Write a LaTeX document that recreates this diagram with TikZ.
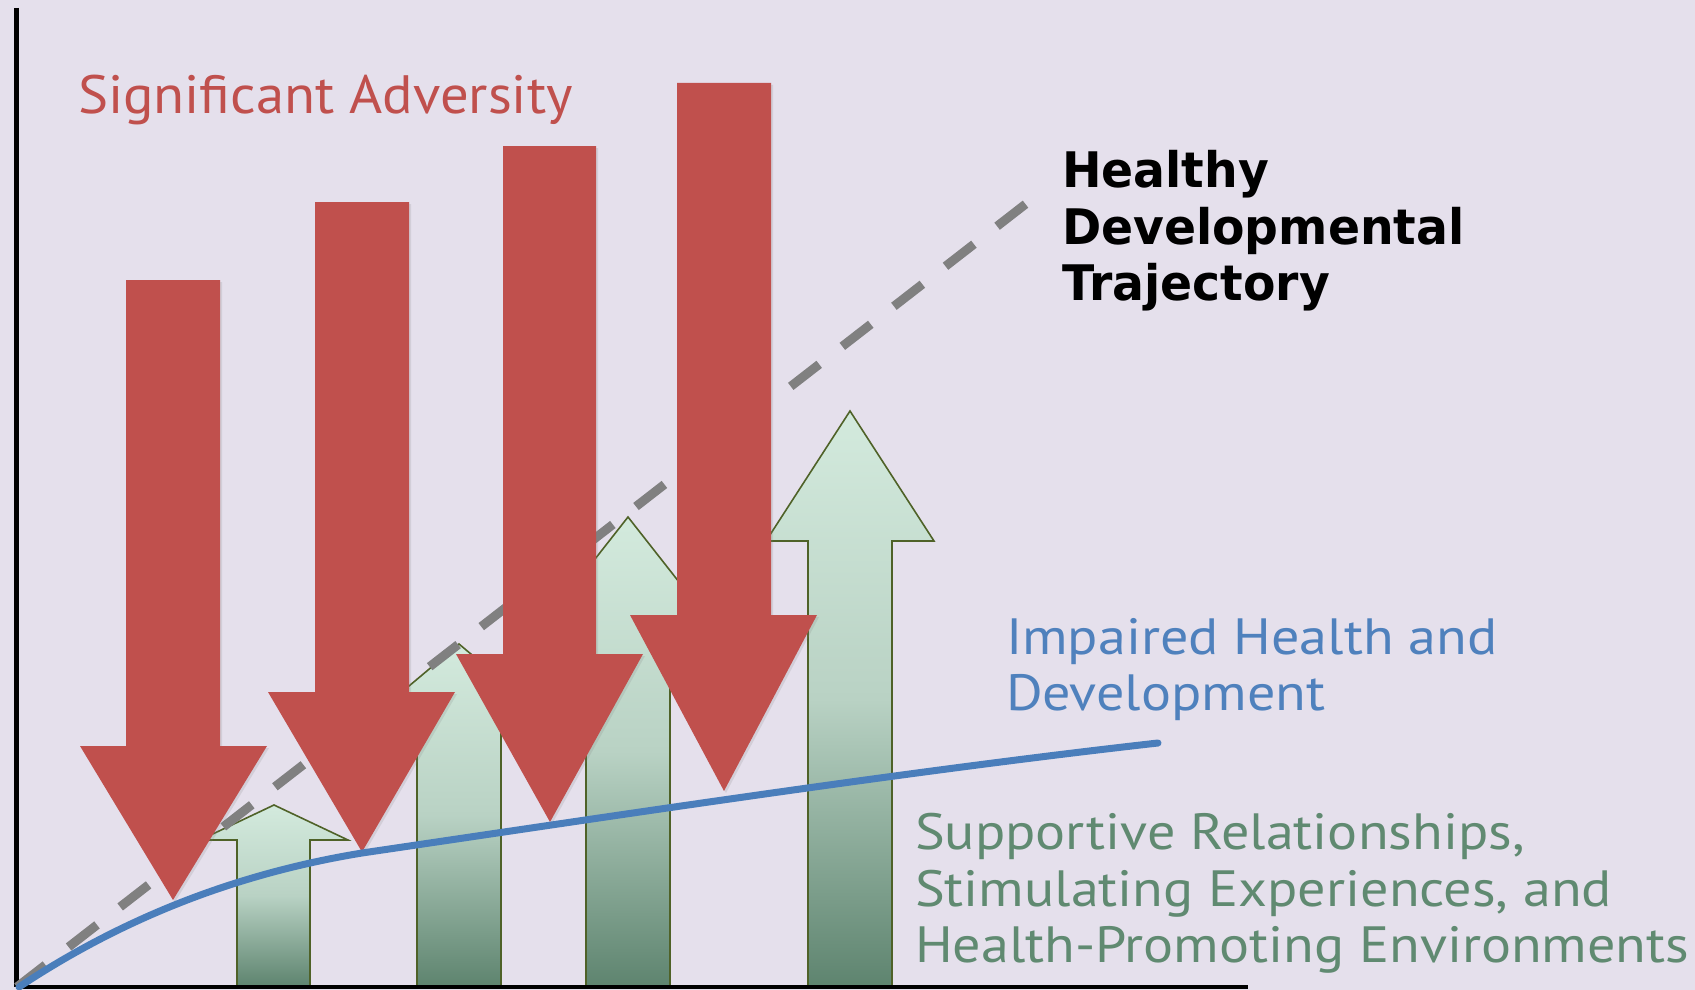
\documentclass[tikz,border=0pt]{standalone}
\usepackage{fontspec}
\setmainfont{PT Sans}
\newfontfamily\safont{PT Sans}[FakeStretch=1.05]
\newfontfamily\lblfont{PT Sans}[FakeStretch=1.10]
\newfontfamily\hdtfont{DejaVu Sans}[FakeStretch=0.965]
\usetikzlibrary{shadows}
\definecolor{bgc}{RGB}{229,224,236}
\definecolor{adv}{RGB}{192,80,77}
\definecolor{impl}{RGB}{74,126,187}
\definecolor{impt}{RGB}{79,129,189}
\definecolor{supt}{RGB}{96,138,113}
\definecolor{gtop}{RGB}{211,234,221}
\definecolor{gmid}{RGB}{185,210,196}
\definecolor{gbot}{RGB}{94,132,111}
\definecolor{gedge}{RGB}{79,98,40}
\definecolor{dashc}{RGB}{128,128,128}
\tikzset{
  redarrow/.style={fill=adv, drop shadow={opacity=0.18, shadow xshift=2pt, shadow yshift=-2pt}},
  greenarrow/.style={top color=gtop, bottom color=gbot, middle color=gmid, draw=gedge, line width=1.6pt, line join=miter},
  yaxis/.style={draw=black, line width=5pt},
  xaxis/.style={draw=black, line width=4pt},
  healthy/.style={draw=dashc, line width=9pt, dash pattern=on 36pt off 29.3pt},
  impaired/.style={draw=impl, line width=7pt, line cap=round},
  lbl/.style={anchor=base west, inner sep=0pt, outer sep=0pt}
}
\begin{document}
\begin{tikzpicture}[x=1pt,y=-1pt]
\useasboundingbox (0,0) rectangle (1695,990);
\fill[bgc] (0,0) rectangle (1695,990);

% green (supportive) arrows
\shade[greenarrow] (237,986) -- (237,840) -- (200,840) -- (274,805) -- (348,840) -- (310,840) -- (310,986) -- cycle;
\shade[greenarrow] (417,986) -- (417,707) -- (384,707) -- (459,644) -- (534,707) -- (501,707) -- (501,986) -- cycle;
\shade[greenarrow] (586,986) -- (586,624) -- (544,624) -- (628,517) -- (712,624) -- (670,624) -- (670,986) -- cycle;
\shade[greenarrow] (808,986) -- (808,541) -- (766,541) -- (850,411) -- (934,541) -- (892,541) -- (892,986) -- cycle;

% axes
\coordinate (origin) at (16,987);
\coordinate (ytop) at (16,8);
\coordinate (xend) at (1248,987);
\draw[yaxis] (ytop) -- (origin);
\draw[xaxis] (origin) -- (xend);

% healthy trajectory
\coordinate (hstart) at (17,987);
\coordinate (htop) at (1027,203);
\draw[healthy] (hstart) -- (htop);

% red (adversity) arrows
\fill[redarrow] (126,280) -- (220,280) -- (220,746) -- (267,746) -- (173,900) -- (80,746) -- (126,746) -- cycle;
\fill[redarrow] (315,202) -- (409,202) -- (409,692) -- (455,692) -- (362,852) -- (268,692) -- (315,692) -- cycle;
\fill[redarrow] (503,146) -- (596,146) -- (596,654) -- (643,654) -- (550,822) -- (456,654) -- (503,654) -- cycle;
\fill[redarrow] (677,83) -- (771,83) -- (771,615) -- (817,615) -- (724,791) -- (630,615) -- (677,615) -- cycle;

% impaired curve
\coordinate (istart) at (19,987);
\coordinate (imid) at (362,853);
\coordinate (iend) at (1158,743);
\draw[impaired] (istart) .. controls (135,910) and (252,871) .. (imid)
  .. controls (600,818) and (900,772) .. (iend);

% labels
\node[lbl, text=adv, font=\safont\fontsize{54}{60}\selectfont] (sa) at (78,113) {Significant Adversity};
\node[lbl, font=\hdtfont\bfseries\fontsize{49}{57}\selectfont] (h1) at (1062,187) {Healthy};
\node[lbl, font=\hdtfont\bfseries\fontsize{49}{57}\selectfont] (h2) at (1062,244) {Developmental};
\node[lbl, font=\hdtfont\bfseries\fontsize{49}{57}\selectfont] (h3) at (1062,300) {Trajectory};
\node[lbl, text=impt, font=\lblfont\fontsize{51}{57}\selectfont] (i1) at (1006,654) {Impaired Health and};
\node[lbl, text=impt, font=\lblfont\fontsize{51}{57}\selectfont] (i2) at (1006,710) {Development};
\node[lbl, text=supt, font=\lblfont\fontsize{51}{57}\selectfont] (s1) at (915,849) {Supportive Relationships,};
\node[lbl, text=supt, font=\lblfont\fontsize{51}{57}\selectfont] (s2) at (915,906) {Stimulating Experiences, and};
\node[lbl, text=supt, font=\lblfont\fontsize{51}{57}\selectfont] (s3) at (915,962) {Health-Promoting Environments};
\end{tikzpicture}
\end{document}
